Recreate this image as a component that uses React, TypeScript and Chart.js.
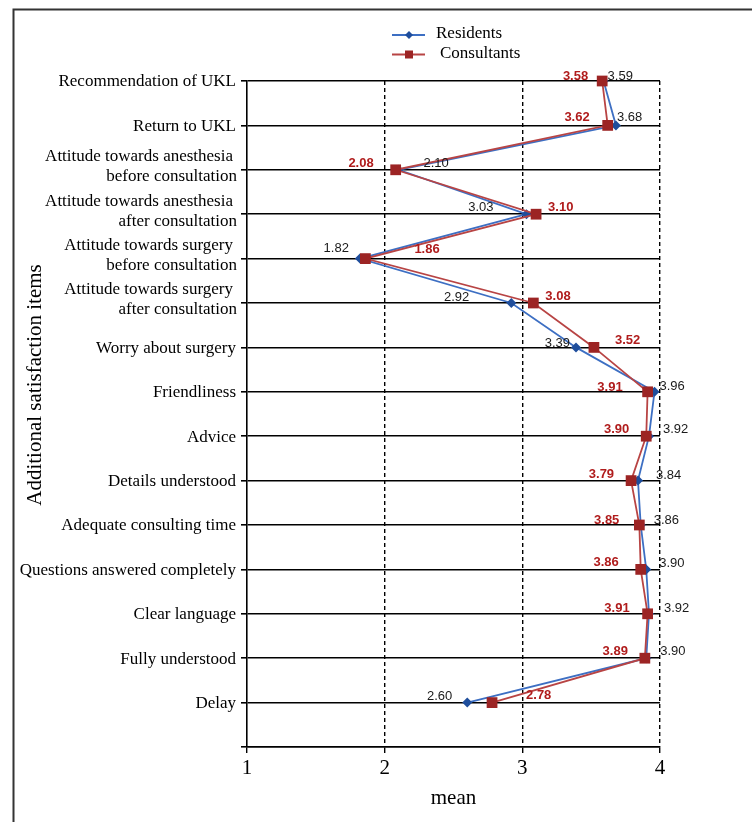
import React, { useEffect, useRef } from "react";
import { Chart, registerables } from "chart.js";

Chart.register(...registerables);

// ---------- data ----------
const itemLabels: string[][] = [
  ["Recommendation of UKL"],
  ["Return to UKL"],
  ["Attitude towards anesthesia", "before consultation"],
  ["Attitude towards anesthesia", "after consultation"],
  ["Attitude towards surgery", "before consultation"],
  ["Attitude towards surgery", "after consultation"],
  ["Worry about surgery"],
  ["Friendliness"],
  ["Advice"],
  ["Details understood"],
  ["Adequate consulting time"],
  ["Questions answered completely"],
  ["Clear language"],
  ["Fully understood"],
  ["Delay"],
];

const residents = [3.59, 3.68, 2.1, 3.03, 1.82, 2.92, 3.39, 3.96, 3.92, 3.84, 3.86, 3.9, 3.92, 3.9, 2.6];
const consultants = [3.58, 3.62, 2.08, 3.1, 1.86, 3.08, 3.52, 3.91, 3.9, 3.79, 3.85, 3.86, 3.91, 3.89, 2.78];

const xTickValues = [1, 2, 3, 4];
const seriesNames = ["Residents", "Consultants"];
const xTitle = "mean";
const yTitle = "Additional satisfaction items";

// value-label placement relative to each point [dx, dy] in px
// (dx >= 0: text starts right of point; dx < 0: text ends left of point)
const residentLabelPlacement = [
  [4, -5], [1, -8], [25, -6], [-33, -7], [-11, -10], [-42, -6], [-6, -4],
  [5, -5], [14, -7], [18, -5], [13, -5], [13, -6], [15, -5], [14, -7], [-15, -6],
];
const consultantLabelPlacement = [
  [-14, -5], [-18, -8], [-22, -6], [12, -7], [49, -9], [12, -7], [21, -7],
  [-25, -4], [-17, -7], [-17, -6], [-20, -5], [-22, -7], [-18, -5], [-17, -7], [34, -7],
];

// ---------- styles ----------
const RES_LINE = "#3d6fc3";
const RES_POINT = "#1f4e9c";
const CON_LINE = "#b84444";
const CON_POINT = "#9c2424";
const CON_TEXT = "#b01c1c";
const SERIF = '"Liberation Serif", "Times New Roman", serif';
const SANS = '"Liberation Sans", Arial, sans-serif';

const decorPlugin = {
  id: "decor",
  beforeDraw(chart: any) {
    const ctx = chart.ctx;
    ctx.save();
    ctx.fillStyle = "#fff";
    ctx.fillRect(0, 0, chart.width, chart.height);
    ctx.strokeStyle = "#333";
    ctx.lineWidth = 2;
    ctx.beginPath();
    ctx.moveTo(13.5, chart.height);
    ctx.lineTo(13.5, 9.5);
    ctx.lineTo(chart.width, 9.5);
    ctx.stroke();
    ctx.restore();
  },
  afterDatasetsDraw(chart: any) {
    const ctx = chart.ctx;
    const draw = (dsIndex: number, values: number[], placement: number[][], font: string, color: string) => {
      const meta = chart.getDatasetMeta(dsIndex);
      ctx.save();
      ctx.font = font;
      ctx.fillStyle = color;
      ctx.textBaseline = "middle";
      values.forEach((v, i) => {
        const pt = meta.data[i];
        const [dx, dy] = placement[i];
        ctx.textAlign = dx >= 0 ? "left" : "right";
        ctx.fillText(v.toFixed(2), pt.x + dx, pt.y + dy);
      });
      ctx.restore();
    };
    draw(0, residents, residentLabelPlacement, `13px ${SANS}`, "#1a1a1a");
    draw(1, consultants, consultantLabelPlacement, `bold 13px ${SANS}`, CON_TEXT);
  },
  afterDraw(chart: any) {
    const ctx = chart.ctx;
    const xs = chart.scales.x;
    const ys = chart.scales.y;
    const area = chart.chartArea;
    ctx.save();
    ctx.fillStyle = "#000";

    // y category labels
    ctx.font = `17px ${SERIF}`;
    ctx.textAlign = "right";
    ctx.textBaseline = "middle";
    itemLabels.forEach((lines, i) => {
      const y = ys.getPixelForValue(i);
      const right = area.left - 11;
      if (lines.length === 1) {
        ctx.fillText(lines[0], right, y + 1);
      } else {
        ctx.fillText(lines[0], right - 3, y - 13);
        ctx.fillText(lines[1], right + 1, y + 7);
      }
    });

    // x tick labels
    ctx.font = `21px ${SERIF}`;
    ctx.textAlign = "center";
    ctx.textBaseline = "alphabetic";
    xTickValues.forEach((v) => {
      ctx.fillText(String(v), xs.getPixelForValue(v), area.bottom + 27);
    });

    // x title
    ctx.fillText(xTitle, (area.left + area.right) / 2, area.bottom + 57);

    // y title
    ctx.save();
    ctx.translate(35, 385);
    ctx.rotate(-Math.PI / 2);
    ctx.textBaseline = "middle";
    ctx.fillText(yTitle, 0, 0);
    ctx.restore();

    // legend
    const lx0 = 392, lx1 = 425, mx = 409;
    const rows = [35, 54.5];
    // Residents
    ctx.strokeStyle = RES_LINE;
    ctx.lineWidth = 2;
    ctx.beginPath();
    ctx.moveTo(lx0, rows[0]);
    ctx.lineTo(lx1, rows[0]);
    ctx.stroke();
    ctx.fillStyle = RES_POINT;
    ctx.beginPath();
    const r = 4;
    ctx.moveTo(mx, rows[0] - r);
    ctx.lineTo(mx + r, rows[0]);
    ctx.lineTo(mx, rows[0] + r);
    ctx.lineTo(mx - r, rows[0]);
    ctx.closePath();
    ctx.fill();
    // Consultants
    ctx.strokeStyle = CON_LINE;
    ctx.beginPath();
    ctx.moveTo(lx0, rows[1]);
    ctx.lineTo(lx1, rows[1]);
    ctx.stroke();
    ctx.fillStyle = CON_POINT;
    ctx.fillRect(mx - 4, rows[1] - 4, 8, 8);

    ctx.fillStyle = "#000";
    ctx.font = `17px ${SERIF}`;
    ctx.textAlign = "left";
    ctx.textBaseline = "middle";
    ctx.fillText(seriesNames[0], 436, rows[0] - 1);
    ctx.fillText(seriesNames[1], 440, rows[1] - 1);
    ctx.restore();
  },
};

export default function App() {
  const ref = useRef<HTMLCanvasElement>(null);

  useEffect(() => {
    const canvas = ref.current;
    if (!canvas) return;
    const chart = new Chart(canvas, {
      type: "scatter",
      data: {
        datasets: [
          {
            label: seriesNames[0],
            data: residents.map((v, i) => ({ x: v, y: i })),
            showLine: true,
            borderColor: RES_LINE,
            borderWidth: 1.8,
            pointStyle: "rectRot",
            pointRadius: 5,
            pointBackgroundColor: RES_POINT,
            pointBorderColor: RES_POINT,
            pointBorderWidth: 0,
            order: 1,
            clip: false,
          } as any,
          {
            label: seriesNames[1],
            data: consultants.map((v, i) => ({ x: v, y: i })),
            showLine: true,
            borderColor: CON_LINE,
            borderWidth: 1.8,
            pointStyle: "rect",
            pointRadius: 7.6,
            pointBackgroundColor: CON_POINT,
            pointBorderColor: CON_POINT,
            pointBorderWidth: 0,
            order: 0,
            clip: false,
          } as any,
        ],
      },
      options: {
        responsive: false,
        animation: false,
        devicePixelRatio: 1,
        layout: { padding: { left: 22, top: 81, right: 92, bottom: 0 } },
        plugins: {
          legend: { display: false },
          tooltip: { enabled: false },
        },
        scales: {
          x: {
            type: "linear",
            min: 1,
            max: 4,
            ticks: { display: false, stepSize: 1 },
            grid: {
              color: (c: any) => (c.tick && c.tick.value === 1 ? "rgba(0,0,0,0)" : "#000"),
              lineWidth: 1.4,
              tickLength: 6,
              tickColor: "#000",
              tickWidth: 1.4,
              tickBorderDash: [],
            } as any,
            border: { display: true, color: "#000", width: 1.6, dash: [4, 3] },
            afterFit: (s: any) => {
              s.height = 75;
            },
          },
          y: {
            type: "linear",
            min: 0,
            max: 15,
            reverse: true,
            ticks: { display: false, stepSize: 1 },
            grid: {
              color: "#000",
              lineWidth: 1.6,
              tickLength: 6,
              tickColor: "#000",
              tickWidth: 1.6,
            },
            border: { display: true, color: "#000", width: 1.6 },
            afterFit: (s: any) => {
              s.width = 225;
            },
          },
        },
      } as any,
      plugins: [decorPlugin],
    });
    return () => chart.destroy();
  }, []);

  return (
    <canvas
      ref={ref}
      width={752}
      height={822}
      style={{ position: "fixed", left: 0, top: 0, width: 752, height: 822, display: "block" }}
    />
  );
}
